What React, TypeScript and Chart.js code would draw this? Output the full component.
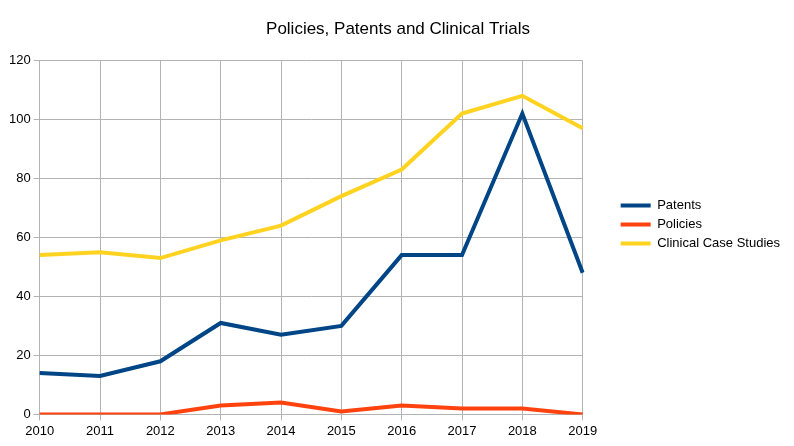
import React, { useEffect, useRef } from "react";
import { Chart, registerables } from "chart.js";

Chart.register(...registerables);

const years = ["2010", "2011", "2012", "2013", "2014", "2015", "2016", "2017", "2018", "2019"];
const patents = [14, 13, 18, 31, 27, 30, 54, 54, 102, 48];
const policies = [0, 0, 0, 3, 4, 1, 3, 2, 2, 0];
const clinical = [54, 55, 53, 59, 64, 74, 83, 102, 108, 97];
const yTicks = [0, 20, 40, 60, 80, 100, 120];
const titleText = "Policies, Patents and Clinical Trials";

export default function App() {
  const ref = useRef<HTMLCanvasElement | null>(null);
  useEffect(() => {
    document.body.style.margin = "0";
    const canvas = ref.current;
    if (!canvas) return;
    const font = "'Liberation Sans', Arial, sans-serif";
    Chart.defaults.font.family = font;
    Chart.defaults.color = "#000";
    const grid = "#b3b3b3";
    const chart = new Chart(canvas, {
      type: "line",
      data: {
        labels: years,
        datasets: [
          { label: "Patents", data: patents, borderColor: "#004586", backgroundColor: "#004586" },
          { label: "Policies", data: policies, borderColor: "#ff420e", backgroundColor: "#ff420e" },
          { label: "Clinical Case Studies", data: clinical, borderColor: "#ffd320", backgroundColor: "#ffd320" },
        ],
      },
      options: {
        responsive: false,
        animation: false,
        devicePixelRatio: 1,
        elements: {
          line: { borderWidth: 4, tension: 0, borderJoinStyle: "miter", borderCapStyle: "butt" },
          point: { radius: 0, hoverRadius: 0 },
        },
        layout: { padding: { left: 6, right: 4, top: 7, bottom: 4 } },
        plugins: {
          title: {
            display: true,
            text: titleText,
            color: "#000",
            font: { size: 17, weight: "normal", family: font },
            padding: { top: 12, bottom: 21 },
          },
          legend: {
            position: "right",
            align: "center",
            maxWidth: 220,
            labels: {
              boxWidth: 30,
              boxHeight: 4,
              padding: 6,
              color: "#000",
              font: { size: 13, family: font },
              generateLabels: (c: any) =>
                Chart.defaults.plugins.legend.labels
                  .generateLabels(c)
                  .map((l: any) => ({ ...l, lineWidth: 0, fillStyle: l.strokeStyle })),
            },
          },
          tooltip: { enabled: false },
        },
        scales: {
          x: {
            offset: false,
            grid: { color: grid, tickLength: 6, tickColor: grid },
            border: { color: grid },
            ticks: { padding: 3, font: { size: 13 }, color: "#000", maxRotation: 0, autoSkip: false },
          },
          y: {
            min: 0,
            max: 120,
            afterBuildTicks: (s: any) => {
              s.ticks = yTicks.map((v) => ({ value: v }));
            },
            grid: { color: grid, tickLength: 6, tickColor: grid },
            border: { color: grid },
            ticks: { padding: 3, font: { size: 13 }, color: "#000" },
          },
          ySpacer: {
            position: "right",
            display: true,
            grid: { display: false, drawOnChartArea: false, drawTicks: false },
            border: { display: false },
            ticks: { display: false },
            afterFit: (s: any) => {
              s.width = 32;
            },
          },
        },
      },
    } as any);
    return () => chart.destroy();
  }, []);
  return (
    <div style={{ width: 794, height: 446 }}>
      <canvas ref={ref} width={794} height={446} />
    </div>
  );
}
